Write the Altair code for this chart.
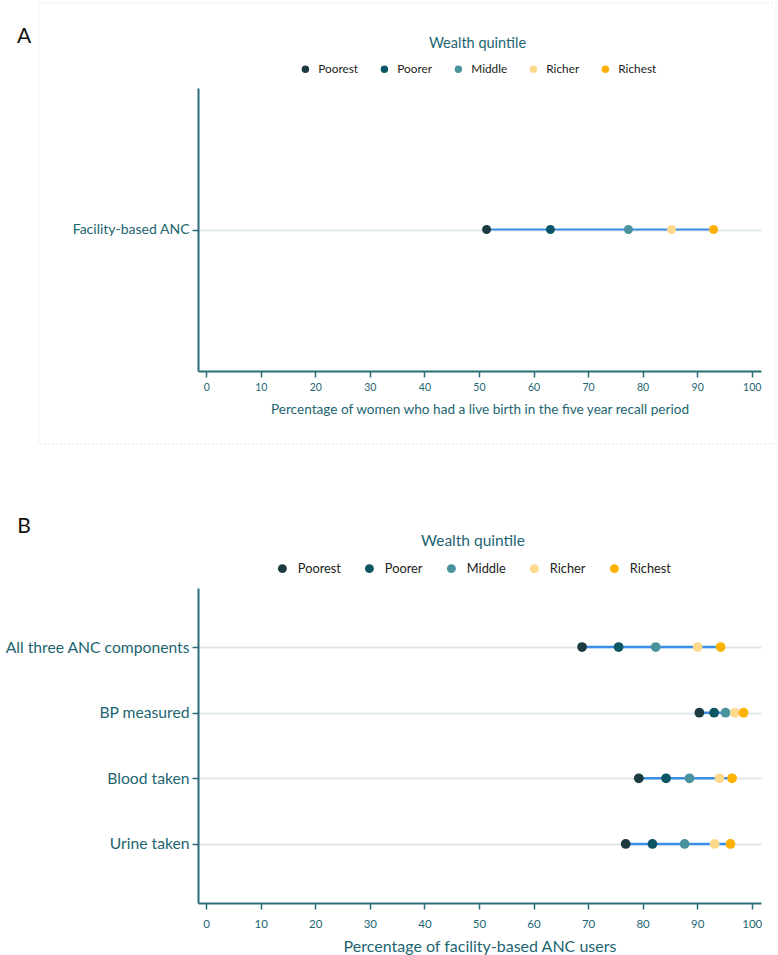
import altair as alt
import pandas as pd

# ---------------- data ----------------
quintiles = ["Poorest", "Poorer", "Middle", "Richer", "Richest"]
quintile_colors = ["#1c3a42", "#0b5564", "#4a929c", "#fdd98c", "#fdb100"]

a_categories = ["Facility-based ANC"]
a_facility_anc = [51.4, 63.1, 77.4, 85.3, 93.0]

b_categories = ["All three ANC components", "BP measured", "Blood taken", "Urine taken"]
b_all_three = [68.9, 75.6, 82.4, 90.1, 94.3]
b_bp_measured = [90.4, 93.1, 95.2, 96.9, 98.5]
b_blood_taken = [79.3, 84.3, 88.6, 94.1, 96.4]
b_urine_taken = [76.9, 81.8, 87.7, 93.2, 96.1]

x_ticks = [0, 10, 20, 30, 40, 50, 60, 70, 80, 90, 100]

a_x_title = "Percentage of women who had a live birth in the five year recall period"
b_x_title = "Percentage of facility-based ANC users"
legend_title = "Wealth quintile"


def long_df(categories, series):
    rows = []
    for cat, vals in zip(categories, series):
        for q, v in zip(quintiles, vals):
            rows.append({"category": cat, "quintile": q, "value": v})
    return pd.DataFrame(rows)


df_a = long_df(a_categories, [a_facility_anc])
df_b = long_df(b_categories, [b_all_three, b_bp_measured, b_blood_taken, b_urine_taken])

FONT = "Lato"
TEAL_AXIS = "#2a6e78"
TEAL_TEXT = "#1d6571"


def panel(df, categories, *, width, height, y_padding, label_size, tick_label_size,
          tick_label_pad, x_title, x_title_size, title_padding, dot_size, line_width,
          legend_x, legend_y, legend_title_size, legend_label_size,
          legend_symbol_size, legend_label_offset, legend_col_pad, legend_title_pad,
          letter, letter_x, letter_y, box=None):
    x_axis = alt.Axis(values=x_ticks, title=x_title, grid=False,
                      domainColor=TEAL_AXIS, domainWidth=2,
                      tickColor=TEAL_AXIS, tickWidth=1.5, tickSize=6,
                      labelColor=TEAL_TEXT, labelFont=FONT, labelFontSize=tick_label_size,
                      labelPadding=tick_label_pad, labelFlush=False,
                      titleColor=TEAL_TEXT, titleFont=FONT, titleFontSize=x_title_size,
                      titleFontWeight="normal", titlePadding=title_padding)
    x_scale = alt.Scale(domain=[-1.5, 101.7], nice=False, zero=False)
    y_axis = alt.Axis(title=None, grid=True, gridColor="#dfe8ec", gridWidth=2,
                      domainColor=TEAL_AXIS, domainWidth=2,
                      tickColor=TEAL_AXIS, tickWidth=1.5, tickSize=6,
                      labelColor=TEAL_TEXT, labelFont=FONT, labelFontSize=label_size,
                      labelPadding=3, labelLimit=400)
    y = alt.Y("category:N", sort=categories,
              scale=alt.Scale(type="point", padding=y_padding), axis=y_axis)

    base = alt.Chart(df)
    rule = base.mark_rule(color="#3a8ee6", strokeWidth=line_width).encode(
        x=alt.X("min(value):Q", scale=x_scale, axis=x_axis),
        x2="max(value):Q",
        y=y,
    )
    points = base.mark_circle(size=dot_size, opacity=1).encode(
        x=alt.X("value:Q", scale=x_scale, axis=x_axis),
        y=y,
        color=alt.Color(
            "quintile:N", sort=quintiles,
            scale=alt.Scale(domain=quintiles, range=quintile_colors),
            legend=alt.Legend(
                orient="none", legendX=legend_x, legendY=legend_y,
                direction="horizontal", title=legend_title, titleAnchor="middle",
                titleFont=FONT, titleFontSize=legend_title_size, titleFontWeight="normal",
                titleColor=TEAL_TEXT, titlePadding=legend_title_pad,
                labelFont=FONT, labelFontSize=legend_label_size, labelColor="#222222",
                symbolType="circle", symbolSize=legend_symbol_size,
                symbolStrokeWidth=0, symbolOpacity=1,
                labelOffset=legend_label_offset, columnPadding=legend_col_pad,
                padding=0,
            ),
        ),
    )
    letter_mark = alt.Chart(pd.DataFrame({"label": [letter]})).mark_text(
        font=FONT, fontSize=21, color="#111111", align="center", baseline="middle"
    ).encode(x=alt.value(letter_x), y=alt.value(letter_y), text="label:N")

    layers = []
    if box is not None:
        bx0, bx1, by0, by1 = box
        layers.append(
            alt.Chart(pd.DataFrame({"b": [0]})).mark_rect(
                fillOpacity=0, stroke="#e4e8ea", strokeWidth=1, strokeDash=[2, 2]
            ).encode(x=alt.value(bx0), x2=alt.value(bx1), y=alt.value(by0), y2=alt.value(by1))
        )
    layers += [rule, points, letter_mark]
    return alt.layer(*layers).properties(width=width, height=height)


PLOT_LEFT = 199
A_TOP = 87.3
B_TOP = 586.7

chart_a = panel(
    df_a, a_categories, width=563, height=283, y_padding=0.5,
    label_size=14, tick_label_size=10.5, tick_label_pad=5,
    x_title=a_x_title, x_title_size=13.6,
    title_padding=10, dot_size=80, line_width=2,
    legend_x=300.5 - PLOT_LEFT, legend_y=36 - A_TOP,
    legend_title_size=14.5, legend_label_size=11.8, legend_symbol_size=55,
    legend_label_offset=7, legend_col_pad=20, legend_title_pad=12,
    letter="A", letter_x=25 - PLOT_LEFT, letter_y=36 - A_TOP,
    box=(40 - PLOT_LEFT, 777 - PLOT_LEFT, 2 - A_TOP, 443 - A_TOP),
)

chart_b = panel(
    df_b, b_categories, width=563, height=315, y_padding=0.9,
    label_size=15.7, tick_label_size=11.5, tick_label_pad=9,
    x_title=b_x_title, x_title_size=16,
    title_padding=9, dot_size=95, line_width=2.5,
    legend_x=277 - PLOT_LEFT, legend_y=533 - B_TOP,
    legend_title_size=15.5, legend_label_size=12.8, legend_symbol_size=80,
    legend_label_offset=9, legend_col_pad=22, legend_title_pad=12,
    letter="B", letter_x=25 - PLOT_LEFT, letter_y=526 - B_TOP,
)

chart = (
    alt.vconcat(chart_a, chart_b, spacing=71)
    .resolve_scale(color="independent", x="independent", y="independent")
    .properties(padding={"left": 4, "top": 2, "right": 0, "bottom": 0}, background="white")
    .configure_view(stroke=None)
)

chart.save("out.html", embed_options={"renderer": "svg", "actions": False})
